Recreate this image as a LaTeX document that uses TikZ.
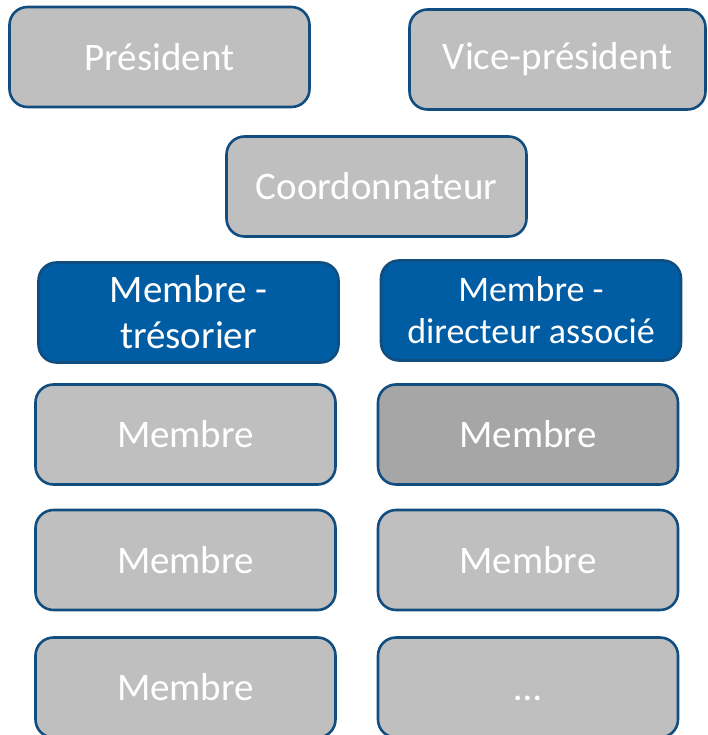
\documentclass[tikz,border=0pt]{standalone}
\usepackage{fontspec}
\setmainfont{Carlito}
\definecolor{boxgray}{HTML}{BFBFBF}
\definecolor{boxdark}{HTML}{A6A6A6}
\definecolor{boxblue}{HTML}{005DA3}
\definecolor{edgeblue}{HTML}{124D80}
\tikzset{
  box/.style={draw=edgeblue, line width=2.6pt, rounded corners=18pt, fill=boxgray,
    minimum width=300pt, minimum height=100pt, text=white, align=center,
    inner sep=0pt, font=\fontsize{39}{46}\selectfont},
  bluebox/.style={box, fill=boxblue},
  darkbox/.style={box, fill=boxdark}
}
\begin{document}
\begin{tikzpicture}[x=1pt,y=-1pt]
\useasboundingbox (0,0) rectangle (708,735);
\clip (0,0) rectangle (708,735);
\node[box] (pres) at (159.5,57) {Président};
\node[box, minimum width=296pt] (vice) at (557.5,59.5) {Vice-président};
\node[box] (coord) at (376.5,186.5) {Coordonnateur};
\node[bluebox] (tres) at (188.5,312.5) {Membre -\\trésorier};
\node[bluebox, font=\fontsize{36}{42}\selectfont] (dir) at (531,310.5) {Membre -\\directeur associé};
\node[box] (m1) at (185.5,434.5) {Membre};
\node[darkbox] (m2) at (528,434.5) {Membre};
\node[box] (m3) at (185.5,560) {Membre};
\node[box] (m4) at (528,560) {Membre};
\node[box] (m5) at (185.5,687.5) {Membre};
\node[box] (m6) at (528,687.5) {\vphantom{Membre}…};
\end{tikzpicture}
\end{document}
